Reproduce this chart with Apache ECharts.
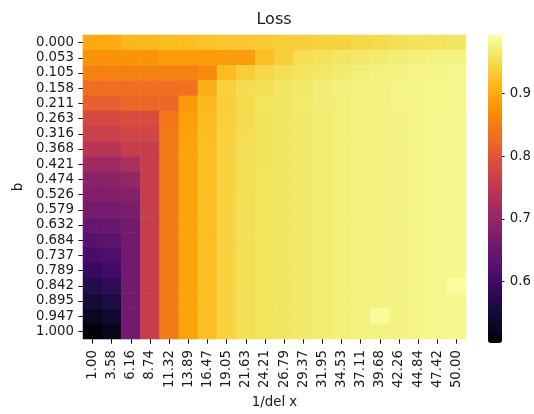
<!DOCTYPE html>
<html>
<head>
<meta charset="utf-8">
<script src="https://cdn.jsdelivr.net/npm/echarts@6/dist/echarts.min.js"></script>
<style>
  html, body { margin: 0; padding: 0; background: #ffffff; }
  #chart { width: 534px; height: 414px; }
</style>
</head>
<body>
<div id="chart"></div>
<script>
// Grid resolution (1/del x) along the columns
const xLabels = ['1.00', '3.58', '6.16', '8.74', '11.32', '13.89', '16.47', '19.05', '21.63', '24.21',
                 '26.79', '29.37', '31.95', '34.53', '37.11', '39.68', '42.26', '44.84', '47.42', '50.00'];

// Parameter b along the rows, top to bottom
const bLabels = ['0.000', '0.053', '0.105', '0.158', '0.211', '0.263', '0.316', '0.368', '0.421', '0.474',
                 '0.526', '0.579', '0.632', '0.684', '0.737', '0.789', '0.842', '0.895', '0.947', '1.000'];

// Loss values, one row per b value, one entry per 1/del x value
const loss = [
  [0.900, 0.900, 0.913, 0.915, 0.918, 0.920, 0.925, 0.927, 0.930, 0.932, 0.935, 0.936, 0.940, 0.941, 0.945, 0.950, 0.953, 0.957, 0.959, 0.962],
  [0.876, 0.876, 0.876, 0.876, 0.886, 0.886, 0.886, 0.886, 0.886, 0.920, 0.937, 0.952, 0.957, 0.962, 0.965, 0.968, 0.972, 0.974, 0.977, 0.978],
  [0.856, 0.856, 0.856, 0.856, 0.856, 0.856, 0.866, 0.918, 0.935, 0.947, 0.952, 0.959, 0.964, 0.968, 0.973, 0.975, 0.977, 0.979, 0.980, 0.982],
  [0.829, 0.829, 0.829, 0.829, 0.829, 0.834, 0.905, 0.940, 0.950, 0.953, 0.962, 0.965, 0.971, 0.974, 0.976, 0.977, 0.979, 0.980, 0.981, 0.982],
  [0.812, 0.812, 0.819, 0.819, 0.819, 0.883, 0.915, 0.937, 0.950, 0.958, 0.962, 0.966, 0.971, 0.973, 0.976, 0.977, 0.979, 0.980, 0.981, 0.982],
  [0.780, 0.780, 0.787, 0.787, 0.845, 0.890, 0.918, 0.938, 0.950, 0.957, 0.962, 0.965, 0.969, 0.973, 0.976, 0.977, 0.978, 0.980, 0.982, 0.983],
  [0.765, 0.765, 0.772, 0.772, 0.847, 0.891, 0.919, 0.939, 0.951, 0.957, 0.962, 0.965, 0.969, 0.973, 0.976, 0.977, 0.978, 0.980, 0.982, 0.983],
  [0.743, 0.743, 0.760, 0.760, 0.848, 0.892, 0.920, 0.940, 0.952, 0.957, 0.962, 0.965, 0.969, 0.973, 0.976, 0.977, 0.978, 0.980, 0.982, 0.983],
  [0.713, 0.713, 0.728, 0.760, 0.848, 0.892, 0.920, 0.940, 0.952, 0.957, 0.962, 0.965, 0.969, 0.973, 0.976, 0.977, 0.978, 0.980, 0.982, 0.983],
  [0.689, 0.689, 0.698, 0.760, 0.848, 0.893, 0.920, 0.940, 0.952, 0.958, 0.962, 0.965, 0.969, 0.973, 0.976, 0.977, 0.978, 0.980, 0.982, 0.983],
  [0.676, 0.678, 0.681, 0.760, 0.848, 0.893, 0.921, 0.941, 0.953, 0.958, 0.962, 0.965, 0.969, 0.973, 0.976, 0.977, 0.978, 0.980, 0.982, 0.983],
  [0.662, 0.662, 0.669, 0.760, 0.848, 0.893, 0.921, 0.941, 0.953, 0.958, 0.962, 0.965, 0.969, 0.973, 0.976, 0.977, 0.978, 0.980, 0.982, 0.983],
  [0.644, 0.649, 0.659, 0.760, 0.848, 0.893, 0.921, 0.941, 0.953, 0.958, 0.962, 0.965, 0.969, 0.973, 0.976, 0.977, 0.978, 0.980, 0.982, 0.983],
  [0.627, 0.634, 0.659, 0.760, 0.848, 0.893, 0.921, 0.941, 0.953, 0.958, 0.962, 0.965, 0.969, 0.973, 0.976, 0.977, 0.978, 0.980, 0.982, 0.983],
  [0.607, 0.615, 0.659, 0.760, 0.848, 0.893, 0.921, 0.941, 0.953, 0.958, 0.962, 0.965, 0.969, 0.973, 0.976, 0.977, 0.978, 0.980, 0.982, 0.983],
  [0.590, 0.600, 0.659, 0.760, 0.848, 0.893, 0.921, 0.941, 0.953, 0.958, 0.962, 0.965, 0.969, 0.973, 0.976, 0.977, 0.978, 0.980, 0.982, 0.983],
  [0.570, 0.580, 0.659, 0.760, 0.848, 0.893, 0.921, 0.941, 0.953, 0.958, 0.962, 0.965, 0.969, 0.973, 0.976, 0.977, 0.978, 0.980, 0.982, 0.991],
  [0.548, 0.561, 0.659, 0.760, 0.848, 0.893, 0.921, 0.941, 0.953, 0.958, 0.962, 0.965, 0.969, 0.973, 0.976, 0.977, 0.978, 0.980, 0.982, 0.983],
  [0.526, 0.541, 0.659, 0.760, 0.848, 0.893, 0.921, 0.941, 0.953, 0.958, 0.962, 0.965, 0.969, 0.973, 0.976, 0.990, 0.978, 0.980, 0.982, 0.983],
  [0.506, 0.521, 0.659, 0.760, 0.848, 0.893, 0.921, 0.941, 0.953, 0.958, 0.962, 0.965, 0.969, 0.973, 0.976, 0.977, 0.978, 0.980, 0.982, 0.983]
];

// Colour scale limits and colourbar ticks
const colorMin = 0.5015;
const colorMax = 0.9938;
const colorTicks = [0.6, 0.7, 0.8, 0.9];

// Inferno colormap, sampled every 0.05
const inferno = ['#000004', '#0a0722', '#160b39', '#280b53', '#420a68', '#57106e', '#6a176e',
                 '#7f1e6c', '#932667', '#a82e5f', '#bc3754', '#d04545', '#dd513a', '#ed6925',
                 '#f37819', '#f98e09', '#fca50a', '#fbbe23', '#f6d746', '#f1ed71', '#fcffa4'];

const FONT = 'DejaVu Sans';
const INK = '#1a1a1a';

const cells = [];
loss.forEach((row, i) => row.forEach((v, j) => cells.push([j, i, v])));

const chart = echarts.init(document.getElementById('chart'), null, { renderer: 'canvas' });

chart.setOption({
  backgroundColor: '#ffffff',
  animation: false,
  textStyle: { fontFamily: FONT },
  title: {
    text: 'Loss',
    left: 274,
    top: 12,
    padding: 0,
    textAlign: 'center',
    textStyle: { fontFamily: FONT, fontSize: 16, fontWeight: 'normal', color: INK }
  },
  grid: [
    { left: 83, top: 35, width: 383, height: 308, containLabel: false },
    { left: 488, top: 35, width: 14, height: 308, containLabel: false }
  ],
  xAxis: [
    {
      type: 'category',
      gridIndex: 0,
      data: xLabels,
      name: '1/del x',
      nameLocation: 'middle',
      nameGap: 56,
      nameTextStyle: { fontFamily: FONT, fontSize: 13.3, color: INK },
      axisLine: { show: false },
      splitLine: { show: false },
      axisTick: { show: true, alignWithLabel: true, length: 4.7, lineStyle: { color: INK, width: 1 } },
      axisLabel: { interval: 0, rotate: 90, margin: 11, fontFamily: FONT, fontSize: 13.3, color: INK }
    },
    {
      type: 'category',
      gridIndex: 1,
      data: [''],
      show: false
    }
  ],
  yAxis: [
    {
      type: 'category',
      gridIndex: 0,
      data: bLabels,
      inverse: true,
      name: 'b',
      nameLocation: 'middle',
      nameGap: 58,
      nameTextStyle: { fontFamily: FONT, fontSize: 13.3, color: INK },
      axisLine: { show: false },
      splitLine: { show: false },
      axisTick: { show: true, alignWithLabel: true, length: 4.7, lineStyle: { color: INK, width: 1 } },
      axisLabel: { interval: 0, margin: 9, fontFamily: FONT, fontSize: 13.3, color: INK }
    },
    {
      type: 'value',
      gridIndex: 1,
      position: 'right',
      min: colorMin,
      max: colorMax,
      axisLine: { show: false },
      splitLine: { show: false },
      axisTick: { show: true, customValues: colorTicks, length: 4.7, lineStyle: { color: INK, width: 1 } },
      axisLabel: {
        customValues: colorTicks,
        margin: 10,
        fontFamily: FONT,
        fontSize: 13.3,
        color: INK,
        formatter: v => v.toFixed(1)
      }
    }
  ],
  visualMap: {
    type: 'continuous',
    seriesIndex: 0,
    min: colorMin,
    max: colorMax,
    calculable: false,
    hoverLink: false,
    orient: 'vertical',
    left: 488,
    top: 35,
    padding: 0,
    itemWidth: 14,
    itemHeight: 308,
    text: null,
    inRange: { color: inferno }
  },
  series: [
    {
      type: 'heatmap',
      xAxisIndex: 0,
      yAxisIndex: 0,
      data: cells,
      silent: true,
      itemStyle: { borderWidth: 0 },
      emphasis: { disabled: true }
    },
    {
      type: 'line',
      xAxisIndex: 1,
      yAxisIndex: 1,
      data: [],
      silent: true,
      showSymbol: false
    }
  ]
});
</script>
</body>
</html>
